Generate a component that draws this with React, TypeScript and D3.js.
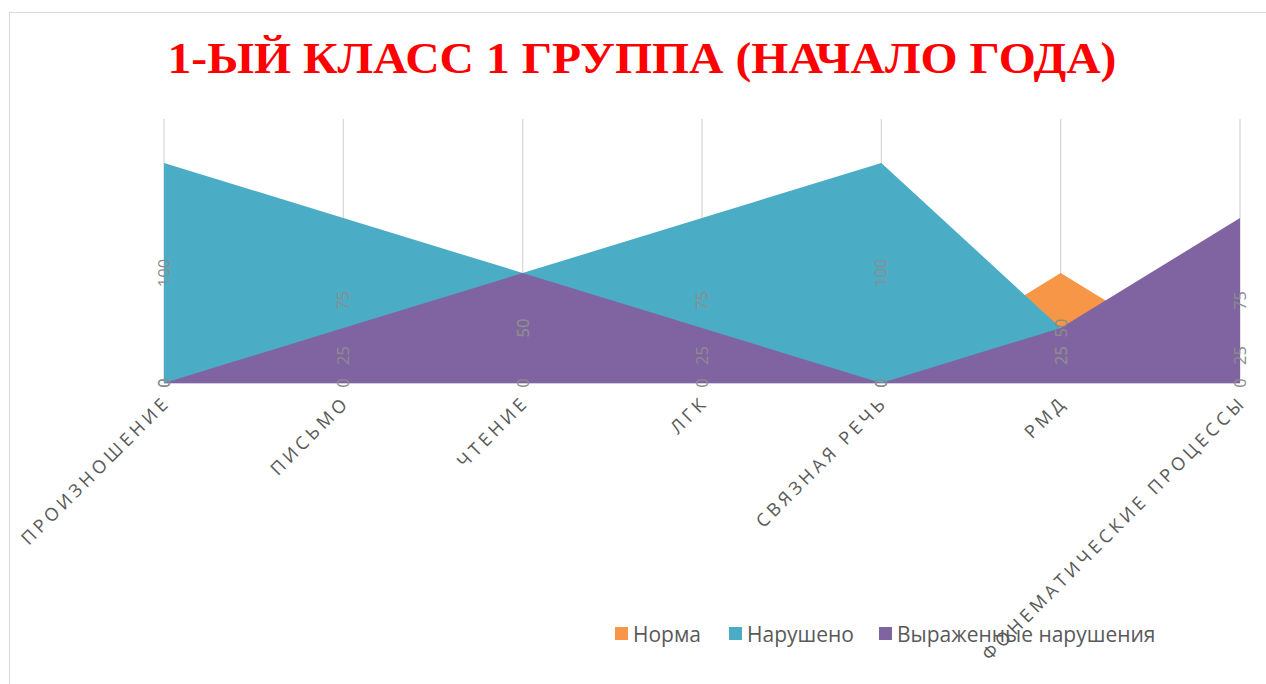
import React, { useEffect, useRef } from "react";
import * as d3 from "d3";

const categories = [
  "Произношение",
  "Письмо",
  "Чтение",
  "ЛГК",
  "Связная речь",
  "РМД",
  "Фонематические процессы",
];
const seriesNames = ["Норма", "Нарушено", "Выраженные нарушения"];
const normaValues = [0, 0, 0, 0, 0, 50, 0];
const narushenoValues = [100, 75, 50, 75, 100, 25, 25];
const vyrazhValues = [0, 25, 50, 25, 0, 25, 75];
const colors = ["#f79646", "#4bacc6", "#8064a2"];

const W = 1266;
const H = 684;

export default function App() {
  const ref = useRef<SVGSVGElement>(null);

  useEffect(() => {
    const svg = d3.select(ref.current);
    svg.selectAll("*").remove();

    const series = [normaValues, narushenoValues, vyrazhValues];

    // plot area
    const left = 164, right = 1240, top = 119, bottom = 383;
    const x = d3.scalePoint<string>().domain(categories).range([left, right]);
    const y = d3.scaleLinear().domain([0, 120]).range([bottom, top]);

    // chart frame
    svg.append("rect")
      .attr("x", 9.5).attr("y", 12.5)
      .attr("width", W + 20).attr("height", H + 20)
      .attr("fill", "none").attr("stroke", "#d9d9d9");

    // title
    svg.append("text")
      .attr("x", 642).attr("y", 73)
      .attr("text-anchor", "middle")
      .attr("textLength", 949)
      .attr("lengthAdjust", "spacingAndGlyphs")
      .style("font-family", "'Liberation Serif', 'Times New Roman', serif")
      .style("font-weight", "bold")
      .style("font-size", "44px")
      .style("fill", "#ff0000")
      .text("1-ЫЙ КЛАСС 1 ГРУППА (НАЧАЛО ГОДА)");

    // vertical gridlines
    svg.append("g").selectAll("line")
      .data(categories)
      .join("line")
      .attr("x1", d => x(d)!).attr("x2", d => x(d)!)
      .attr("y1", top).attr("y2", bottom)
      .attr("stroke", "#d9d9d9").attr("stroke-width", 1.3);

    // areas, first series at the back
    const area = d3.area<number>()
      .x((_, i) => x(categories[i])!)
      .y0(y(0))
      .y1(d => y(d));

    svg.append("g").selectAll("path")
      .data(series)
      .join("path")
      .attr("d", d => area(d))
      .attr("fill", (_, i) => colors[i]);

    // category axis line
    svg.append("line")
      .attr("x1", left).attr("x2", right)
      .attr("y1", bottom + 0.5).attr("y2", bottom + 0.5)
      .attr("stroke", "#d0cde0").attr("stroke-width", 1.2);

    // data labels, rotated, at half the value height
    const labels = svg.append("g");
    series.forEach(vals => {
      labels.selectAll(null)
        .data(vals)
        .join("text")
        .attr("transform", (d, i) => `translate(${x(categories[i])! + 6},${y(d / 2)}) rotate(-90)`)
        .attr("text-anchor", "middle")
        .style("font-family", "'Open Sans', sans-serif")
        .style("font-size", "16.5px")
        .style("fill", "#8c8c8c")
        .text(d => d);
    });

    // category labels
    svg.append("g").selectAll("text")
      .data(categories)
      .join("text")
      .attr("transform", d => `translate(${x(d)! + 3},${bottom + 16}) rotate(-45)`)
      .attr("text-anchor", "end")
      .attr("dy", "0.35em")
      .style("font-family", "'Open Sans', sans-serif")
      .style("font-size", "18px")
      .style("letter-spacing", "3.9px")
      .style("fill", "#595959")
      .text(d => d.toUpperCase());

    // legend
    const legendX = [615, 729, 879];
    const lg = svg.append("g");
    seriesNames.forEach((name, i) => {
      lg.append("rect")
        .attr("x", legendX[i]).attr("y", 627)
        .attr("width", 13).attr("height", 13)
        .attr("fill", colors[i]);
      lg.append("text")
        .attr("x", legendX[i] + 18).attr("y", 642)
        .style("font-family", "'Open Sans', sans-serif")
        .style("font-size", "21px")
        .style("fill", "#595959")
        .text(name);
    });
  }, []);

  return (
    <svg ref={ref} width={W} height={H}
      style={{ position: "absolute", left: 0, top: 0, background: "#fff" }} />
  );
}
